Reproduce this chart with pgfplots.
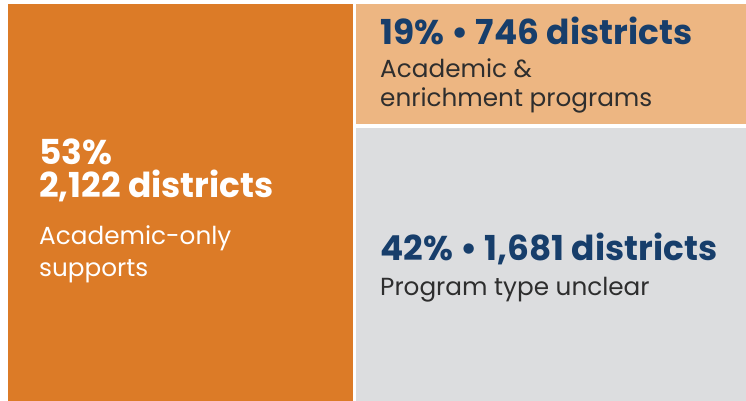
\documentclass[border=0pt]{standalone}
\usepackage{pgfplots}
\pgfplotsset{compat=1.18}
\usepackage{fontspec}
\setmainfont{Poppins}
\definecolor{orangeA}{HTML}{DC7B27}
\definecolor{peach}{HTML}{EDB682}
\definecolor{greyA}{HTML}{DCDDDF}
\definecolor{navy}{HTML}{173E6B}
\definecolor{ink}{HTML}{2E2E2E}

\begin{document}
\begin{tikzpicture}
\begin{axis}[
  width=746bp, height=401bp, scale only axis,
  xmin=0, xmax=746, ymin=0, ymax=401,
  hide axis, clip=false,
]
% white backdrop so the page keeps the full frame
\addplot[fill=white, draw=none] coordinates {(0,0) (746,0) (746,401) (0,401)} -- cycle;
% treemap tiles (pixel units, y from the bottom)
\addplot[fill=orangeA, draw=none] coordinates {(8,0) (353,0) (353,397) (8,397)} -- cycle;
\addplot[fill=peach, draw=none] coordinates {(356,277) (746,277) (746,397) (356,397)} -- cycle;
\addplot[fill=greyA, draw=none] coordinates {(356,0) (746,0) (746,273) (356,273)} -- cycle;

% left tile
\node[anchor=base west, inner sep=0pt, text=white, font=\fontsize{34.5}{38}\selectfont\bfseries] at (axis cs:39,236) {53\%};
\node[anchor=base west, inner sep=0pt, text=white, font=\fontsize{34.5}{38}\selectfont\bfseries] at (axis cs:39,203) {2,122 districts};
\node[anchor=base west, inner sep=0pt, text=white, font=\fontsize{24.8}{28}\selectfont] at (axis cs:39,156) {Academic-only};
\node[anchor=base west, inner sep=0pt, text=white, font=\fontsize{24.8}{28}\selectfont] at (axis cs:39,124) {supports};

% top right tile
\node[anchor=base west, inner sep=0pt, text=navy, font=\fontsize{34.5}{38}\selectfont\bfseries] at (axis cs:380,356) {19\% • 746 districts};
\node[anchor=base west, inner sep=0pt, text=ink, font=\fontsize{24.8}{28}\selectfont] at (axis cs:380,323) {Academic \&};
\node[anchor=base west, inner sep=0pt, text=ink, font=\fontsize{24.8}{28}\selectfont] at (axis cs:380,294) {enrichment programs};

% bottom right tile
\node[anchor=base west, inner sep=0pt, text=navy, font=\fontsize{34.5}{38}\selectfont\bfseries] at (axis cs:380,140) {42\% • 1,681 districts};
\node[anchor=base west, inner sep=0pt, text=ink, font=\fontsize{24.8}{28}\selectfont] at (axis cs:380,105) {Program type unclear};
\end{axis}
\end{tikzpicture}
\end{document}
